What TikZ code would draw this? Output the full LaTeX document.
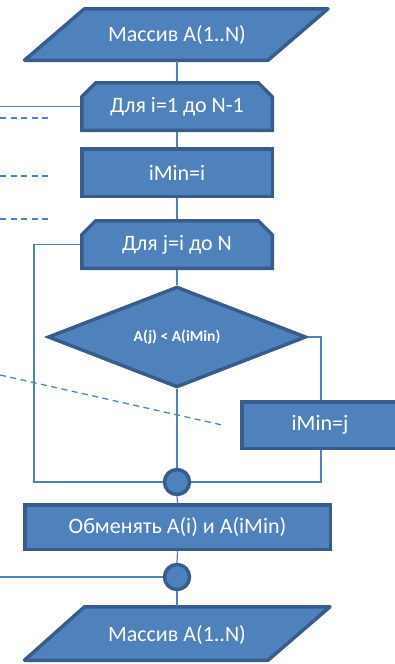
\documentclass[tikz,border=0pt]{standalone}
\usepackage{fontspec}
\setmainfont{Carlito}
\usetikzlibrary{shapes.misc,shapes.geometric}
\definecolor{fillblue}{HTML}{4F81BD}
\definecolor{edgeblue}{HTML}{385D8A}
\begin{document}
\begin{tikzpicture}[x=1pt,y=-1pt,
  blk/.style={draw=edgeblue, line width=3.5pt, fill=fillblue, text=white,
    font=\fontsize{22}{26}\selectfont, inner sep=0pt},
  procbox/.style={blk, rectangle, minimum width=190.5pt, minimum height=47.5pt},
  loopbox/.style={blk, chamfered rectangle, chamfered rectangle corners={north east, north west},
    chamfered rectangle xsep=7pt, chamfered rectangle ysep=7pt,
    minimum width=190.5pt, minimum height=47.5pt},
  iobox/.style={draw=edgeblue, line width=3.5pt, fill=fillblue, line join=round},
  iotext/.style={text=white, font=\fontsize{22}{26}\selectfont, inner sep=0pt,
    minimum width=190pt, minimum height=52pt},
  joint/.style={draw=edgeblue, line width=3.5pt, fill=fillblue, circle, inner sep=0pt, minimum size=25pt},
  conn/.style={draw=fillblue, line width=1.2pt},
  note/.style={draw=fillblue, line width=1.3pt, dash pattern=on 6pt off 4.5pt}
]
\useasboundingbox (0,0) rectangle (395,664);
% input
\draw[iobox] (84.5,8.75) -- (328,8.75) -- (268,60.25) -- (24.5,60.25) -- cycle;
\node[iotext] (in) at (177,35) {Массив A(1..N)};
\node[loopbox] (for1) at (177,106.5) {Для i=1 до N-1};
\node[procbox] (imin1) at (177,172.5) {iMin=i};
\node[loopbox] (for2) at (177,244.5) {Для j=i до N};
\node[blk, diamond, minimum width=258pt, minimum height=88pt,
  font=\fontsize{15.5}{18}\selectfont\bfseries] (cond) at (177,337) {A(j) < A(iMin)};
\node[procbox, minimum width=156.5pt, minimum height=46.5pt] (imin2) at (320,425) {iMin=j};
\node[joint] (c1) at (177,482) {};
\node[procbox, minimum width=305.5pt, minimum height=44.5pt] (swap) at (177.5,527) {Обменять A(i) и A(iMin)};
\node[joint] (c2) at (177,577) {};
\draw[iobox] (84.5,606.75) -- (330,606.75) -- (268,660.25) -- (24.5,660.25) -- cycle;
\node[iotext] (out) at (177,635) {Массив A(1..N)};
% connectors
\coordinate (lft1) at (0,106.5);
\coordinate (lft2) at (34,244.5);
\coordinate (rgt) at (321,337);
\coordinate (lft3) at (0,577);
\draw[conn] (in.south) -- (for1.north);
\draw[conn] (for1.south) -- (imin1.north);
\draw[conn] (imin1.south) -- (for2.north);
\draw[conn] (for2.south) -- (cond.north);
\draw[conn] (cond.south) -- (c1.north);
\draw[conn] (for1.west) -- (lft1);
\draw[conn] (for2.west) -- (lft2) |- (c1.west);
\draw[conn] (cond.east) -- (rgt) -- (imin2.north -| rgt);
\draw[conn] (imin2.south -| rgt) |- (c1.east);
\draw[conn] (c1.south) -- (swap.north);
\draw[conn] (swap.south) -- (c2.north);
\draw[conn] (c2.south) -- (out.south |- 0,606);
\draw[conn] (c2.west) -- (lft3);
% comment lines
\coordinate (n1a) at (0,118); \coordinate (n1b) at (48,118);
\coordinate (n2a) at (0,176); \coordinate (n2b) at (48,176);
\coordinate (n3a) at (0,219); \coordinate (n3b) at (48,219);
\coordinate (n4a) at (0,375); \coordinate (n4b) at (222,425);
\draw[note] (n1a) -- (n1b);
\draw[note] (n2a) -- (n2b);
\draw[note] (n3a) -- (n3b);
\draw[note] (n4a) -- (n4b);
\end{tikzpicture}
\end{document}
